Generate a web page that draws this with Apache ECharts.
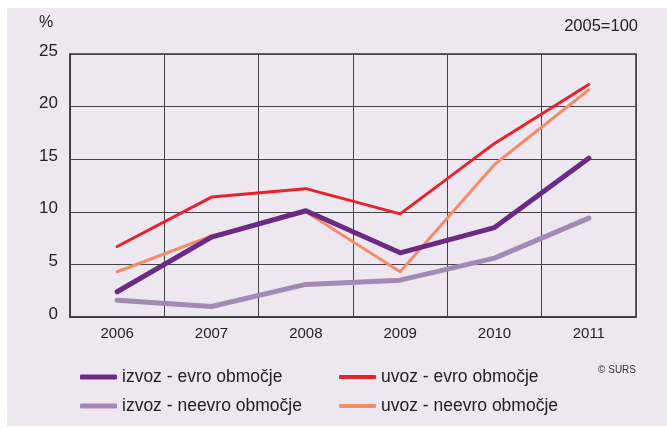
<!DOCTYPE html>
<html>
<head>
<meta charset="utf-8">
<script src="https://cdn.jsdelivr.net/npm/echarts@6/dist/echarts.min.js"></script>
<style>
  html, body { margin: 0; padding: 0; background: #fff; }
  #wrap { position: relative; width: 667px; height: 428px; }
  #panel { position: absolute; left: 7px; top: 8px; width: 660px; height: 418px; background: #ede8f0; }
  #chart { position: absolute; left: 0; top: 0; width: 667px; height: 428px; }
</style>
</head>
<body>
<div id="wrap">
  <div id="panel"></div>
  <div id="chart"></div>
</div>
<script>
// leta
var years = ["2006", "2007", "2008", "2009", "2010", "2011"];
// indeksi, 2005=100
var izvozEvro = [2.4, 7.6, 10.1, 6.1, 8.5, 15.1];
var uvozEvro = [6.7, 11.4, 12.2, 9.8, 16.5, 22.1];
var izvozNeevro = [1.6, 1.0, 3.1, 3.5, 5.6, 9.4];
var uvozNeevro = [4.3, 7.7, 10.0, 4.3, 14.5, 21.6];
var yTicks = [0, 5, 10, 15, 20, 25];

var names = ["izvoz - evro območje", "uvoz - evro območje", "izvoz - neevro območje", "uvoz - neevro območje"];
var colors = ["#6b2a84", "#e8222b", "#a38ab4", "#f48c6c"];

var font = "Liberation Sans";
var myChart = echarts.init(document.getElementById('chart'));

function line(name, data, color, width) {
  return {
    name: name,
    type: "line",
    data: data,
    symbol: "none",
    lineStyle: { color: color, width: width, cap: "round", join: "round" },
    itemStyle: { color: color }
  };
}

var legendText = { fontSize: 17.5, color: "#222", lineHeight: 20, fontFamily: font };

myChart.setOption({
  animation: false,
  textStyle: { fontFamily: font },
  grid: {
    left: 70, right: 31, top: 54, bottom: 111,
    show: true, borderColor: "#3a3a3a", borderWidth: 1.5
  },
  legend: [
    {
      data: [names[0], names[2]],
      orient: "vertical",
      left: 75, top: 362,
      icon: "roundRect",
      itemWidth: 37, itemHeight: 5, itemGap: 9,
      textStyle: legendText
    },
    {
      data: [names[1], names[3]],
      orient: "vertical",
      left: 334, top: 362,
      icon: "roundRect",
      itemWidth: 37, itemHeight: 4, itemGap: 9,
      textStyle: legendText
    }
  ],
  graphic: [
    { type: "text", left: 39, top: 15, style: { text: "%", fontSize: 16, fill: "#222", fontFamily: font } },
    { type: "text", right: 29, top: 18, style: { text: "2005=100", fontSize: 16.5, fill: "#222", fontFamily: font } },
    { type: "text", right: 31, top: 365, style: { text: "© SURS", fontSize: 10, fill: "#333", fontFamily: font } }
  ],
  xAxis: {
    type: "category",
    data: years,
    boundaryGap: true,
    axisLine: { show: true, lineStyle: { color: "#3a3a3a", width: 1.5 } },
    axisTick: { show: false },
    axisLabel: { fontSize: 15, color: "#222", margin: 9 },
    splitLine: { show: true, lineStyle: { color: "#444", width: 1 } }
  },
  yAxis: {
    type: "value",
    min: yTicks[0], max: yTicks[yTicks.length - 1], interval: 5,
    axisLine: { show: true, lineStyle: { color: "#3a3a3a", width: 1.5 } },
    axisTick: { show: false },
    axisLabel: { fontSize: 17, color: "#222", margin: 12, verticalAlign: "bottom", lineHeight: 6 },
    splitLine: { show: true, lineStyle: { color: "#444", width: 1 } }
  },
  series: [
    line(names[2], izvozNeevro, colors[2], 5),
    line(names[3], uvozNeevro, colors[3], 3),
    line(names[0], izvozEvro, colors[0], 5),
    line(names[1], uvozEvro, colors[1], 3)
  ]
});
</script>
</body>
</html>
